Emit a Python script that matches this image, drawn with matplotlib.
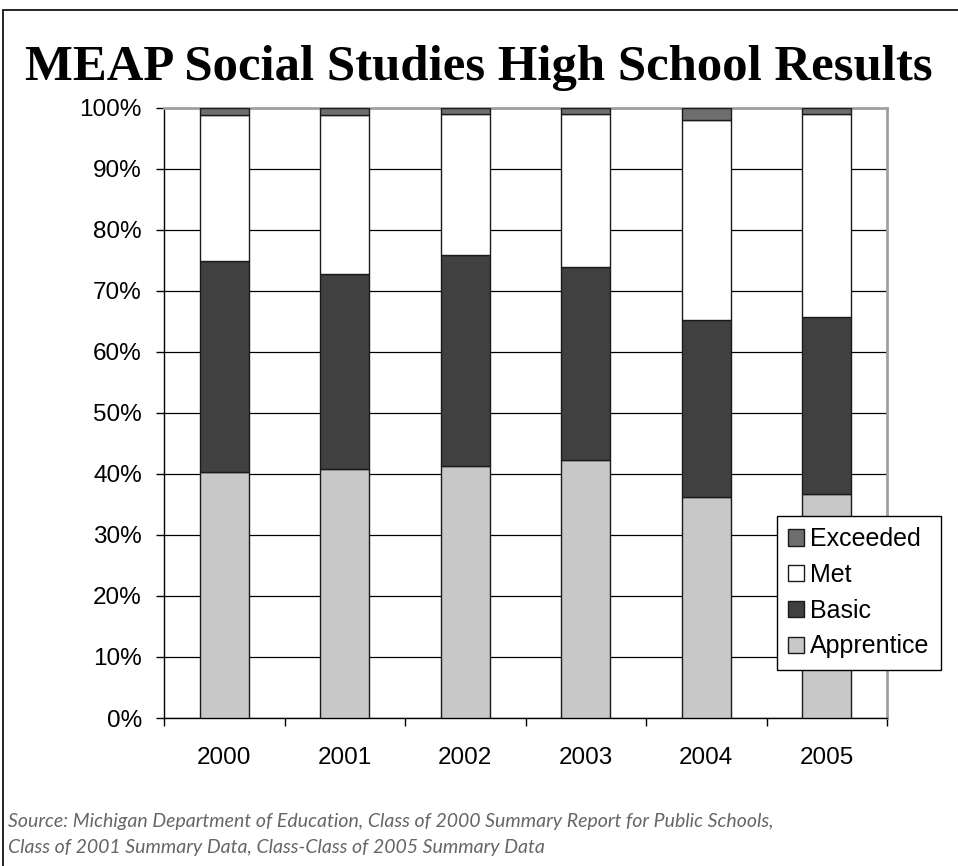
import matplotlib.pyplot as plt
from matplotlib.patches import Rectangle
from matplotlib.ticker import FixedLocator

# data (percent of students per level)
years = ["2000", "2001", "2002", "2003", "2004", "2005"]
apprentice = [40.3, 40.8, 41.3, 42.3, 36.2, 36.7]
basic = [34.6, 32.0, 34.6, 31.6, 29.0, 29.0]
met = [24.0, 26.1, 23.1, 25.1, 32.8, 33.3]
exceeded = [1.1, 1.1, 1.0, 1.0, 2.0, 1.0]

levels = ["Apprentice", "Basic", "Met", "Exceeded"]
colors = ["#c8c8c8", "#404040", "#ffffff", "#6e6e6e"]

fig = plt.figure(figsize=(9.58, 8.66), dpi=100)
ax = fig.add_axes([0.1712, 0.1709, 0.7547, 0.7044])

x = range(len(years))
bottom = [0.0] * len(years)
handles = []
for name, vals, col in zip(levels, [apprentice, basic, met, exceeded], colors):
    b = ax.bar(x, vals, bottom=bottom, width=0.41, color=col,
               edgecolor="#1a1a1a", linewidth=1.0, label=name, zorder=3)
    handles.append(b)
    bottom = [p + v for p, v in zip(bottom, vals)]

ax.set_xlim(-0.5, len(years) - 0.5)
ax.set_ylim(0, 100)
ax.set_yticks(range(0, 101, 10))
ax.set_yticklabels([f"{v}%" for v in range(0, 101, 10)],
                   fontfamily="Liberation Sans", fontsize=17.5)
ax.set_xticks(list(x))
ax.set_xticklabels(years, fontfamily="Liberation Sans", fontsize=17.5)
ax.tick_params(axis="x", length=0, pad=21)
ax.xaxis.set_minor_locator(FixedLocator([i - 0.5 for i in range(len(years) + 1)]))
ax.tick_params(axis="x", which="minor", length=6, width=1, color="black")
ax.tick_params(axis="y", length=6, width=1, pad=10)
ax.yaxis.grid(True, color="black", linewidth=0.9, zorder=0)
ax.set_axisbelow(True)

for side in ["top", "right"]:
    ax.spines[side].set_color("#a0a0a0")
    ax.spines[side].set_linewidth(2)
for side in ["left", "bottom"]:
    ax.spines[side].set_color("black")
    ax.spines[side].set_linewidth(1)

leg = ax.legend(handles[::-1], levels[::-1], loc="upper left",
                bbox_to_anchor=(777 / 958, 1 - 516 / 866),
                bbox_transform=fig.transFigure,
                prop={"family": "Liberation Sans", "size": 18},
                fancybox=False, edgecolor="black", framealpha=1,
                handlelength=0.62, handleheight=0.62, handletextpad=0.25,
                labelspacing=0.47, borderpad=0.45, borderaxespad=0)
leg.get_frame().set_linewidth(1)
leg.set_zorder(5)

fig.text(0.5, 1 - 68 / 866, "MEAP Social Studies High School Results",
         ha="center", va="center", fontfamily="Liberation Serif",
         fontweight="bold", fontsize=36.5)

fig.text(8 / 958, 1 - 822 / 866,
         "Source: Michigan Department of Education, Class of 2000 Summary Report for Public Schools,",
         ha="left", va="center", fontfamily="Lato", style="italic",
         fontsize=14, color="#666666")
fig.text(8 / 958, 1 - 847 / 866,
         "Class of 2001 Summary Data, Class-Class of 2005 Summary Data",
         ha="left", va="center", fontfamily="Lato", style="italic",
         fontsize=14, color="#666666")

# outer frame
fig.patches.append(Rectangle((3 / 958, -0.05), 1.2, 1 - 10 / 866 + 0.05,
                             transform=fig.transFigure, fill=False,
                             edgecolor="black", linewidth=1.2))

fig.savefig("out.png", dpi=100)
